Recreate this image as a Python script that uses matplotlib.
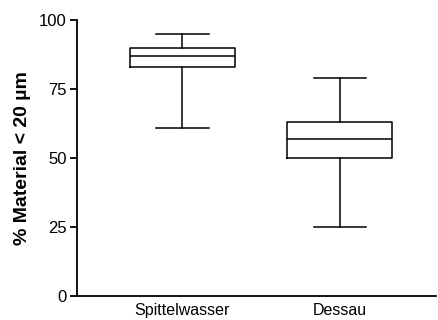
import matplotlib
matplotlib.use("Agg")
import matplotlib.pyplot as plt

plt.rcParams['font.family'] = ['Liberation Sans', 'DejaVu Sans']

# Box statistics.
sites = ["Spittelwasser", "Dessau"]
whisker_low = [61, 25]
box_low = [83, 50]
medians = [87, 57]
box_high = [90, 63]
whisker_high = [95, 79]

stats = []
for i, name in enumerate(sites):
    stats.append({
        "label": name,
        "whislo": whisker_low[i],
        "q1": box_low[i],
        "med": medians[i],
        "q3": box_high[i],
        "whishi": whisker_high[i],
        "fliers": [],
    })

fig = plt.figure(figsize=(4.38, 3.2), dpi=100)
ax = fig.add_axes([0.176, 0.075, 0.82, 0.8625])

lw = 1.1
ax.bxp(stats, positions=[1, 2], widths=0.665, capwidths=0.335, showfliers=False,
       boxprops=dict(color="black", linewidth=lw),
       medianprops=dict(color="black", linewidth=lw),
       whiskerprops=dict(color="black", linewidth=lw),
       capprops=dict(color="black", linewidth=lw))

ax.set_xlim(0.335, 2.61)
ax.set_ylim(0, 100)
ax.set_yticks([0, 25, 50, 75, 100])
ax.spines["top"].set_visible(False)
ax.spines["right"].set_visible(False)
ax.spines["left"].set_linewidth(1.3)
ax.spines["bottom"].set_linewidth(1.3)
ax.tick_params(axis="y", length=5, width=1.3, labelsize=12, pad=2.5)
ax.tick_params(axis="x", length=0, labelsize=11.5, pad=5)
ax.set_ylabel("% Material < 20 µm", fontsize=14, fontweight="bold", labelpad=6)

fig.savefig("out.png", dpi=100)
